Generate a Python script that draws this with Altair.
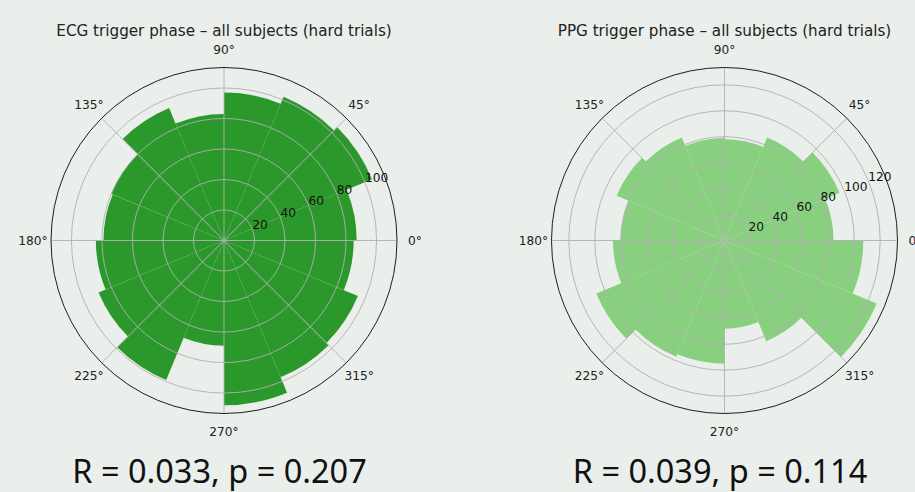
import math

import altair as alt
import pandas as pd

# Phase bins (degrees, anticlockwise from 0°), 22.5° wide
bin_start = [0, 22.5, 45, 67.5, 90, 112.5, 135, 157.5, 180, 202.5, 225, 247.5, 270, 292.5, 315, 337.5]
bin_width = 22.5

# Trigger counts per phase bin
ecg_counts = [87, 105, 102, 97, 83, 94, 80, 79, 84, 89, 99, 69, 108, 97, 95, 85]
ppg_counts = [84, 96, 86, 78, 79, 86, 90, 80, 86, 107, 97, 95, 68, 84, 127, 107]

ecg_rings = [20, 40, 60, 80, 100]
ppg_rings = [20, 40, 60, 80, 100, 120]

angle_ticks = [0, 45, 90, 135, 180, 225, 270, 315]
angle_labels = ["0°", "45°", "90°", "135°", "180°", "225°", "270°", "315°"]

ecg_title = "ECG trigger phase – all subjects (hard trials)"
ppg_title = "PPG trigger phase – all subjects (hard trials)"
ecg_stat = "R = 0.033, p = 0.207"
ppg_stat = "R = 0.039, p = 0.114"

ECG_COLOR = "#2b982c"
PPG_COLOR = "#89cf80"
GRID = "#b0b0b0"
BG = "#eaefeb"
TICK_FONT = "DejaVu Sans"

R_PX = 173          # outer radius of each polar axis, px
CY = 240.5          # vertical centre of the polar axes, px
PANEL_H = 492


def polar_panel(counts, color, rings, title, stat, width, cx):
    rmax = max(counts) * 1.05

    xs = alt.Scale(domain=[-rmax, rmax], range=[cx - R_PX, cx + R_PX], nice=False, zero=False)
    ys = alt.Scale(domain=[-rmax, rmax], range=[CY + R_PX, CY - R_PX], nice=False, zero=False)
    # 0° at 3 o'clock, angles increasing anticlockwise
    ts = alt.Scale(domain=[0, 360], range=[math.pi / 2, math.pi / 2 - 2 * math.pi],
                   nice=False, zero=False)
    rs = alt.Scale(type="linear", domain=[0, rmax], range=[0, R_PX], nice=False)

    centre_x = alt.X("o:Q", scale=xs, axis=None)
    centre_y = alt.Y("o:Q", scale=ys, axis=None)

    bars_df = pd.DataFrame({
        "start": bin_start,
        "end": [b + bin_width for b in bin_start],
        "count": counts,
        "o": 0,
    })
    bars = alt.Chart(bars_df).mark_arc(fill=color, strokeWidth=0).encode(
        x=centre_x, y=centre_y,
        theta=alt.Theta("start:Q", scale=ts, stack=False),
        theta2="end:Q",
        radius=alt.Radius("count:Q", scale=rs),
    )

    rings_df = pd.DataFrame({"r": rings, "t0": 0, "t1": 360, "o": 0})
    ring_lines = alt.Chart(rings_df).mark_arc(
        filled=False, stroke=GRID, strokeWidth=0.9
    ).encode(
        x=centre_x, y=centre_y,
        theta=alt.Theta("t0:Q", scale=ts, stack=False),
        theta2="t1:Q",
        radius=alt.Radius("r:Q", scale=rs),
    )

    spokes_df = pd.DataFrame({
        "o": 0,
        "x1": [rmax * math.cos(math.radians(a)) for a in angle_ticks],
        "y1": [rmax * math.sin(math.radians(a)) for a in angle_ticks],
    })
    spokes = alt.Chart(spokes_df).mark_rule(color=GRID, strokeWidth=0.9).encode(
        x=centre_x, y=centre_y, x2="x1:Q", y2="y1:Q",
    )

    spine_df = pd.DataFrame({"r": [rmax], "t0": 0, "t1": 360, "o": 0})
    spine = alt.Chart(spine_df).mark_arc(
        filled=False, stroke="#1e1e1e", strokeWidth=1
    ).encode(
        x=centre_x, y=centre_y,
        theta=alt.Theta("t0:Q", scale=ts, stack=False),
        theta2="t1:Q",
        radius=alt.Radius("r:Q", scale=rs),
    )

    lab_r = rmax * 191 / R_PX
    theta_df = pd.DataFrame({
        "label": angle_labels,
        "x": [lab_r * math.cos(math.radians(a)) for a in angle_ticks],
        "y": [lab_r * math.sin(math.radians(a)) for a in angle_ticks],
    })
    theta_text = alt.Chart(theta_df).mark_text(
        font=TICK_FONT, fontSize=12.2, color="#222222",
        align="center", baseline="middle", clip=True,
    ).encode(
        x=alt.X("x:Q", scale=xs, axis=None),
        y=alt.Y("y:Q", scale=ys, axis=None),
        text="label:N",
    )

    rlab_df = pd.DataFrame({
        "label": [str(r) for r in rings],
        "x": [r * math.cos(math.radians(22.5)) for r in rings],
        "y": [r * math.sin(math.radians(22.5)) for r in rings],
    })
    r_text = alt.Chart(rlab_df).mark_text(
        font=TICK_FONT, fontSize=12.2, color="#111111",
        align="left", baseline="alphabetic",
    ).encode(
        x=alt.X("x:Q", scale=xs, axis=None),
        y=alt.Y("y:Q", scale=ys, axis=None),
        text="label:N",
    )

    title_text = alt.Chart(pd.DataFrame({"t": [title]})).mark_text(
        font=TICK_FONT, fontSize=15.2, color="#222222",
        align="center", baseline="alphabetic",
    ).encode(x=alt.value(cx), y=alt.value(36), text="t:N")

    stat_text = alt.Chart(pd.DataFrame({"t": [stat]})).mark_text(
        font="Noto Sans", fontSize=32.5, color="#111111",
        align="center", baseline="alphabetic",
    ).encode(x=alt.value(cx - 4.5), y=alt.value(483), text="t:N")

    return alt.layer(
        bars, ring_lines, spokes, spine, theta_text, r_text, title_text, stat_text
    ).properties(width=width, height=PANEL_H)


left = polar_panel(ecg_counts, ECG_COLOR, ecg_rings, ecg_title, ecg_stat, 460, 224)
right = polar_panel(ppg_counts, PPG_COLOR, ppg_rings, ppg_title, ppg_stat, 455, 264.5)

chart = (
    alt.hconcat(left, right, spacing=0, bounds="flush")
    .properties(padding=0)
    .configure(background=BG)
    .configure_view(strokeWidth=0)
)

chart.save("out.html", embed_options={"renderer": "svg", "actions": False})
